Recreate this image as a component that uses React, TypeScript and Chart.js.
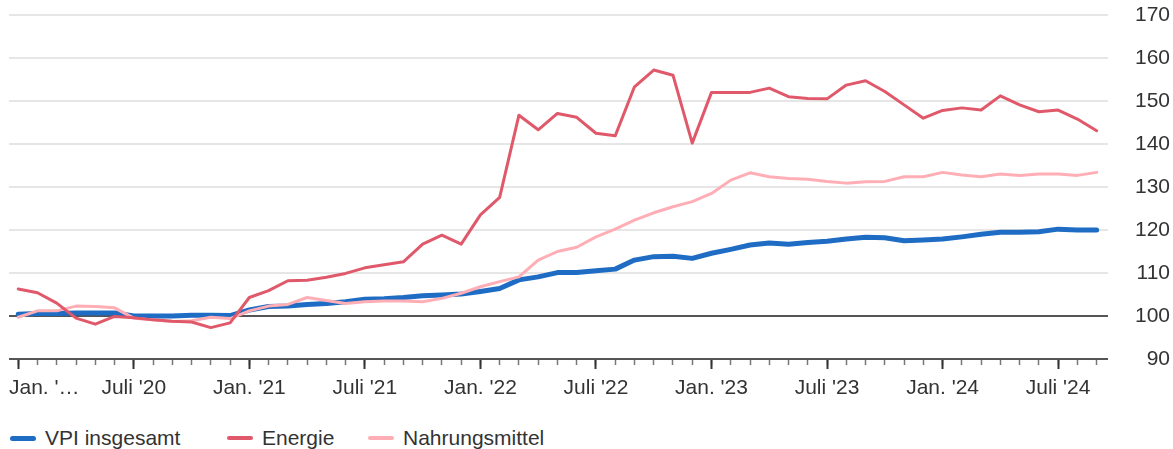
import { useEffect, useRef } from "react";
import { Chart, registerables } from "chart.js";

Chart.register(...registerables);

const months = [
  "2020-01", "2020-02", "2020-03", "2020-04", "2020-05", "2020-06", "2020-07", "2020-08", "2020-09", "2020-10", "2020-11", "2020-12",
  "2021-01", "2021-02", "2021-03", "2021-04", "2021-05", "2021-06", "2021-07", "2021-08", "2021-09", "2021-10", "2021-11", "2021-12",
  "2022-01", "2022-02", "2022-03", "2022-04", "2022-05", "2022-06", "2022-07", "2022-08", "2022-09", "2022-10", "2022-11", "2022-12",
  "2023-01", "2023-02", "2023-03", "2023-04", "2023-05", "2023-06", "2023-07", "2023-08", "2023-09", "2023-10", "2023-11", "2023-12",
  "2024-01", "2024-02", "2024-03", "2024-04", "2024-05", "2024-06", "2024-07", "2024-08", "2024-09",
];

const vpiInsgesamt = [
  100.4, 100.6, 100.6, 100.7, 100.7, 100.7, 100.0, 100.0, 100.0, 100.2, 100.2, 100.1,
  101.4, 102.2, 102.3, 102.7, 102.9, 103.3, 103.9, 104.0, 104.3, 104.7, 104.9, 105.1,
  105.7, 106.4, 108.4, 109.1, 110.1, 110.1, 110.5, 110.9, 113.0, 113.8, 113.9, 113.4,
  114.6, 115.5, 116.5, 117.0, 116.7, 117.1, 117.4, 117.9, 118.3, 118.2, 117.5, 117.7,
  117.9, 118.4, 119.0, 119.5, 119.5, 119.6, 120.2, 120.0, 120.0,
];

const energie = [
  106.3, 105.4, 103.0, 99.5, 98.1, 99.9, 99.6, 99.1, 98.8, 98.6, 97.3, 98.4,
  104.3, 105.9, 108.2, 108.3, 109.0, 109.9, 111.2, 111.9, 112.6, 116.7, 118.8, 116.7,
  123.5, 127.6, 146.7, 143.3, 147.1, 146.2, 142.5, 141.9, 153.3, 157.2, 156.0, 140.2,
  152.0, 152.0, 152.0, 153.0, 151.0, 150.6, 150.5, 153.7, 154.7, 152.2, 149.1, 146.0,
  147.8, 148.4, 147.9, 151.2, 149.1, 147.5, 147.9, 145.8, 143.1,
];

const nahrungsmittel = [
  99.7, 101.2, 101.2, 102.3, 102.2, 101.9, 99.5, 99.1, 98.7, 98.9, 99.7, 99.4,
  101.2, 102.3, 102.7, 104.3, 103.6, 102.9, 103.3, 103.5, 103.5, 103.3, 104.1, 105.3,
  106.8, 108.0, 109.1, 113.0, 115.0, 116.0, 118.4, 120.2, 122.3, 124.0, 125.4, 126.6,
  128.5, 131.6, 133.3, 132.4, 132.0, 131.8, 131.3, 130.9, 131.2, 131.3, 132.4, 132.4,
  133.4, 132.8, 132.4, 133.0, 132.7, 133.0, 133.0, 132.7, 133.4,
];

const xTickLabels = [
  "Jan. '…", "Juli '20", "Jan. '21", "Juli '21", "Jan. '22", "Juli '22", "Jan. '23", "Juli '23", "Jan. '24", "Juli '24",
];

const yTicks = [90, 100, 110, 120, 130, 140, 150, 160, 170];

const seriesNames = ["VPI insgesamt", "Energie", "Nahrungsmittel"];
const seriesColors = ["#1f6cc4", "#e0596b", "#ffaeb6"];
const seriesWidths = [5, 3, 3];
const seriesOrder = [2, 0, 1];

const FONT_SIZE = 21;
const FONT = { family: "'Liberation Sans', Arial, sans-serif", size: FONT_SIZE };
const TEXT_COLOR = "#333333";
const XMIN = -0.48;
const XMAX = 56.59;

export default function App() {
  const canvasRef = useRef<HTMLCanvasElement | null>(null);

  useEffect(() => {
    if (!canvasRef.current) return;
    const allSeries = [vpiInsgesamt, energie, nahrungsmittel];
    const chart = new Chart(canvasRef.current, {
      type: "line",
      data: {
        datasets: allSeries.map((vals, s) => ({
          label: seriesNames[s],
          data: months.map((_, i) => ({ x: i, y: vals[i] })),
          borderColor: seriesColors[s],
          backgroundColor: seriesColors[s],
          borderWidth: seriesWidths[s],
          pointRadius: 0,
          tension: 0,
          borderJoinStyle: "round",
          borderCapStyle: "round",
          order: seriesOrder[s],
          xAxisID: "x",
          yAxisID: "y",
        })),
      },
      options: {
        animation: false,
        responsive: false,
        layout: { padding: { left: 9, right: 3, top: 15, bottom: 0 } },
        plugins: {
          legend: { display: false },
          tooltip: { enabled: false },
        },
        scales: {
          xFirst: {
            type: "linear",
            position: "bottom",
            weight: 0,
            min: XMIN,
            max: XMAX,
            afterBuildTicks: (s: any) => {
              s.ticks = [{ value: XMIN }];
            },
            afterFit: (s: any) => {
              s.height = 0;
            },
            grid: { display: true, drawOnChartArea: false, drawTicks: true, tickLength: 10, tickColor: "rgba(0,0,0,0)" },
            border: { display: false },
            ticks: {
              align: "start",
              mirror: true,
              padding: -(17 + FONT_SIZE * 1.2),
              font: FONT,
              color: TEXT_COLOR,
              maxRotation: 0,
              autoSkip: false,
              callback: () => xTickLabels[0],
            },
          },
          xMinor: {
            type: "linear",
            position: "bottom",
            weight: 1,
            min: XMIN,
            max: XMAX,
            afterBuildTicks: (s: any) => {
              s.ticks = months.map((_, i) => ({ value: i }));
            },
            afterFit: (s: any) => {
              s.height = 0;
            },
            grid: { display: true, drawOnChartArea: false, drawTicks: true, tickLength: 6, tickColor: "#777777", tickWidth: 1.5 },
            border: { display: false },
            ticks: { display: false, autoSkip: false, maxRotation: 0 },
          },
          x: {
            type: "linear",
            position: "bottom",
            weight: 2,
            min: XMIN,
            max: XMAX,
            afterBuildTicks: (s: any) => {
              s.ticks = months.map((_, i) => i).filter((i) => i % 6 === 0).map((i) => ({ value: i }));
            },
            afterFit: (s: any) => {
              s.height = 46;
            },
            grid: { display: true, drawOnChartArea: false, drawTicks: true, tickLength: 10, tickColor: "#333333", tickWidth: 2 },
            border: { display: false },
            ticks: {
              padding: 7,
              font: FONT,
              color: TEXT_COLOR,
              maxRotation: 0,
              autoSkip: false,
              callback: (v: any) => (v === 0 ? "" : xTickLabels[Math.round(v / 6)]),
            },
          },
          y: {
            type: "linear",
            position: "right",
            min: 90,
            max: 170,
            afterBuildTicks: (s: any) => {
              s.ticks = yTicks.map((v) => ({ value: v }));
            },
            afterFit: (s: any) => {
              s.width = 62;
            },
            grid: {
              drawTicks: true,
              tickLength: 25,
              tickColor: "rgba(0,0,0,0)",
              color: (ctx: any) => (ctx.tick && (ctx.tick.value === 90 || ctx.tick.value === 100) ? "#555555" : "#e6e6e6"),
              lineWidth: 2,
            },
            border: { display: false },
            ticks: {
              padding: 2,
              crossAlign: "far",
              font: FONT,
              color: TEXT_COLOR,
            },
          },
        },
      },
    } as any);
    return () => chart.destroy();
  }, []);

  const legendLeft = [10, 227, 368];

  return (
    <div style={{ position: "absolute", left: 0, top: 0, width: 1173, height: 449, background: "#ffffff" }}>
      <canvas ref={canvasRef} width={1173} height={405} style={{ display: "block" }} />
      {seriesNames.map((name, s) => (
        <div
          key={name}
          style={{
            position: "absolute",
            left: legendLeft[s],
            top: 426,
            height: 24,
            display: "flex",
            alignItems: "center",
            fontFamily: "'Liberation Sans', Arial, sans-serif",
            fontSize: FONT_SIZE,
            color: TEXT_COLOR,
            whiteSpace: "nowrap",
          }}
        >
          <span
            style={{
              display: "inline-block",
              width: 26,
              height: s === 0 ? 5 : 4,
              borderRadius: 3,
              background: seriesColors[s],
              marginRight: 9,
            }}
          />
          <span>{name}</span>
        </div>
      ))}
    </div>
  );
}
